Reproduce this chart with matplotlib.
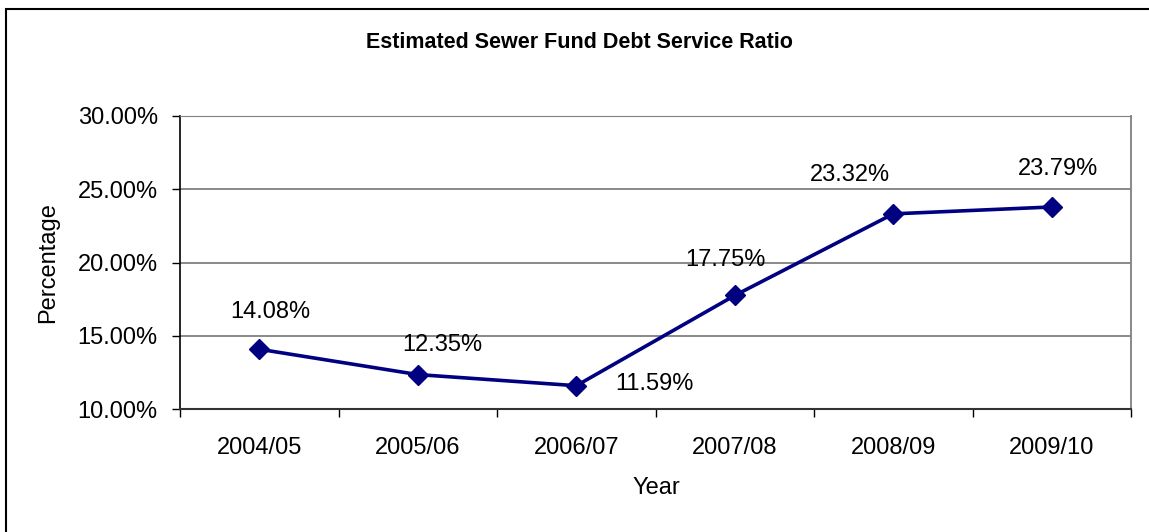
import numpy as np
import matplotlib as mpl
mpl.use('Agg')
import matplotlib.pyplot as plt
from matplotlib.patches import Rectangle

plt.rcParams['font.family'] = ['Liberation Sans', 'DejaVu Sans']

years = ["2004/05", "2005/06", "2006/07", "2007/08", "2008/09", "2009/10"]
ratios = [14.08, 12.35, 11.59, 17.75, 23.32, 23.79]
# label offsets in pixels (dx, dy) from each point
label_offsets = [(11, 37), (25, 30), (78, 2), (-9, 35), (-43, 39), (6, 38)]

fig = plt.figure(figsize=(11.49, 5.32), dpi=100)
ax = fig.add_axes([180/1149, 1-409/532, 951/1149, 293/532])

x = np.arange(len(years))
ax.plot(x, ratios, color='#000080', lw=2.6, marker='D', ms=10.5,
        markerfacecolor='#000080', markeredgecolor='#000080', zorder=3)

for xi, v, (dx, dy) in zip(x, ratios, label_offsets):
    ax.annotate(f"{v:.2f}%", (xi, v), xytext=(dx, dy), textcoords='offset pixels',
                ha='center', va='center', fontsize=17)

ax.set_xlim(-0.5, len(years) - 0.5)
ax.set_ylim(10, 30)
ax.set_yticks([10, 15, 20, 25, 30])
ax.set_yticklabels([f"{t:.2f}%" for t in [10, 15, 20, 25, 30]], fontsize=17)
ax.set_xticks(x)
ax.set_xticklabels(years, fontsize=17)
ax.set_xticks(np.arange(-0.5, len(years)), minor=True)
ax.tick_params(axis='x', which='major', length=0, pad=20)
ax.tick_params(axis='x', which='minor', length=6, width=1, color='black')
ax.tick_params(axis='y', length=6, width=1, pad=10)

ax.grid(axis='y', color='#808080', lw=1.3)
ax.set_axisbelow(True)
ax.spines['top'].set_color('#808080')
ax.spines['right'].set_color('#808080')
ax.spines['right'].set_linewidth(1.3)
ax.spines['left'].set_linewidth(1.2)
ax.spines['bottom'].set_linewidth(1.5)
ax.spines['bottom'].set_color('#333333')

fig.text(48/1149, 1-263/532, "Percentage", rotation=90, ha='center', va='center', fontsize=17)
fig.text(656/1149, 1-488/532, "Year", ha='center', va='center', fontsize=17)
fig.text(579/1149, 1-42/532, "Estimated Sewer Fund Debt Service Ratio",
         ha='center', va='center', fontsize=15.5, fontweight='bold')

# outer chart frame (only left and top visible)
fig.patches.append(Rectangle((6/1149, -0.1), 1.2, 1 - 9/532 + 0.1, transform=fig.transFigure,
                             fill=False, edgecolor='black', lw=1.5))

fig.savefig("out.png", dpi=100)
